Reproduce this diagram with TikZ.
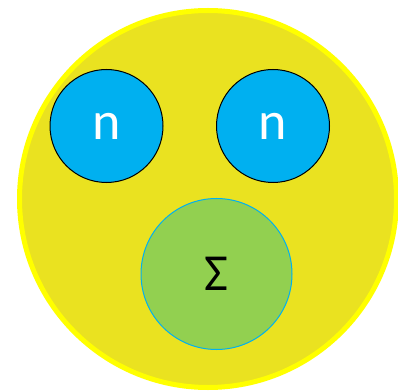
\documentclass[tikz,border=0pt]{standalone}
\usepackage{fontspec}
\setmainfont{Carlito}
\definecolor{outerfill}{RGB}{234,226,32}
\definecolor{outerline}{RGB}{255,255,0}
\definecolor{bluefill}{RGB}{0,176,240}
\definecolor{greenfill}{RGB}{146,208,80}
\begin{document}
\begin{tikzpicture}[x=1pt,y=1pt,
  outer/.style={circle,draw=outerline,fill=outerfill,line width=5pt,minimum size=377pt,inner sep=0pt},
  nbox/.style={circle,draw=black,fill=bluefill,line width=1pt,minimum size=113pt,inner sep=0pt,text=white,font=\fontsize{54}{60}\selectfont},
  sbox/.style={circle,draw=bluefill,fill=greenfill,line width=1pt,minimum size=151pt,inner sep=0pt,text=black,font=\fontsize{52}{60}\selectfont}]
\useasboundingbox (0,0) rectangle (398,391);
\node[outer] (big) at (208,192) {};
\node[nbox] (n1) at (106.5,265) {n};
\node[nbox] (n2) at (273,265) {n};
\node[sbox] (s) at (216.5,117) {Σ};
\end{tikzpicture}
\end{document}
